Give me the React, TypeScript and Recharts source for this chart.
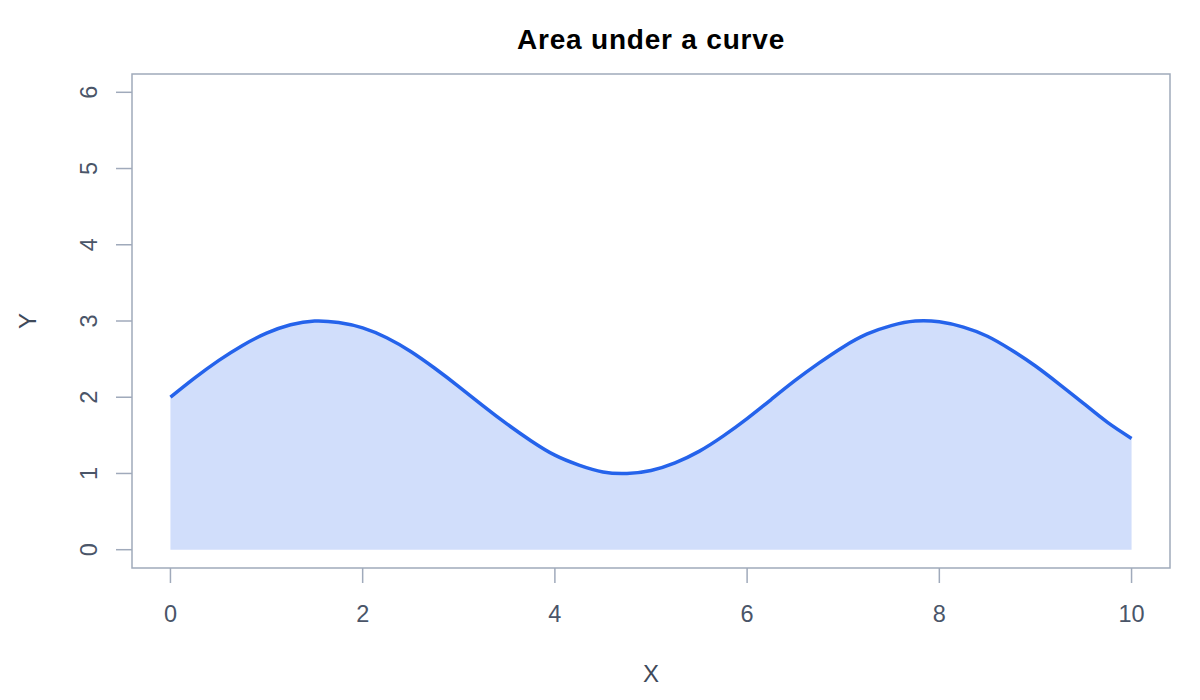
import { Area, ComposedChart, ReferenceArea, XAxis, YAxis } from 'recharts'

const xValues = [
  0, 0.25, 0.5, 0.75, 1, 1.25, 1.5, 1.75, 2, 2.25, 2.5, 2.75, 3, 3.25, 3.5, 3.75, 4, 4.25, 4.5, 4.75,
  5, 5.25, 5.5, 5.75, 6, 6.25, 6.5, 6.75, 7, 7.25, 7.5, 7.75, 8, 8.25, 8.5, 8.75, 9, 9.25, 9.5, 9.75, 10,
]
const yValues = [
  2.0, 2.25, 2.48, 2.68, 2.84, 2.95, 3.0, 2.98, 2.91, 2.78, 2.6, 2.38, 2.14, 1.89, 1.65, 1.43, 1.24, 1.11,
  1.02, 1.0, 1.04, 1.14, 1.29, 1.49, 1.72, 1.97, 2.22, 2.45, 2.66, 2.83, 2.94, 3.0, 2.99, 2.92, 2.8, 2.62,
  2.41, 2.17, 1.92, 1.67, 1.46,
]
const xTicks = [0, 2, 4, 6, 8, 10]
const yTicks = [0, 1, 2, 3, 4, 5, 6]

const X_DOMAIN: [number, number] = [-0.4, 10.4]
const Y_DOMAIN: [number, number] = [-0.24, 6.24]

const FONT = '"Liberation Sans", Arial, Helvetica, sans-serif'
const TICK_COLOR = '#4a5568'
const FRAME_COLOR = '#a0aabb'

const data = xValues.map((x, i) => ({ x, y: yValues[i] }))

function XTick({ x, payload }: any) {
  return (
    <text x={x} y={622} textAnchor="middle" fontSize={23.5} fontFamily={FONT} fill={TICK_COLOR}>
      {payload.value}
    </text>
  )
}

function YTick({ y, payload }: any) {
  return (
    <text
      transform={`translate(96.5,${y}) rotate(-90)`}
      textAnchor="middle"
      fontSize={23.5}
      fontFamily={FONT}
      fill={TICK_COLOR}
    >
      {payload.value}
    </text>
  )
}

export default function App() {
  return (
    <div style={{ position: 'relative', width: 1200, height: 700, margin: -8, background: '#fff' }}>
      <ComposedChart
        width={1200}
        height={700}
        data={data}
        margin={{ top: 74, right: 30, bottom: 72, left: 72 }}
      >
        <XAxis
          type="number"
          dataKey="x"
          domain={X_DOMAIN}
          ticks={xTicks}
          allowDataOverflow
          axisLine={false}
          tickSize={15}
          tickLine={{ stroke: FRAME_COLOR, strokeWidth: 1.5 }}
          tick={<XTick />}
          height={60}
        />
        <YAxis
          type="number"
          domain={Y_DOMAIN}
          ticks={yTicks}
          allowDataOverflow
          axisLine={false}
          tickSize={16}
          tickLine={{ stroke: FRAME_COLOR, strokeWidth: 1.5 }}
          tick={<YTick />}
          width={60}
        />
        <ReferenceArea
          x1={X_DOMAIN[0]}
          x2={X_DOMAIN[1]}
          y1={Y_DOMAIN[0]}
          y2={Y_DOMAIN[1]}
          fill="none"
          stroke={FRAME_COLOR}
          strokeWidth={1.5}
          ifOverflow="visible"
        />
        <Area
          type="natural"
          dataKey="y"
          baseValue={0}
          stroke="#2563eb"
          strokeWidth={3.5}
          fill="#2563eb"
          fillOpacity={0.21}
          dot={false}
          activeDot={false}
          isAnimationActive={false}
        />
      </ComposedChart>
      <svg
        width={1200}
        height={700}
        style={{ position: 'absolute', left: 0, top: 0, pointerEvents: 'none' }}
      >
        <text
          x={651}
          y={49}
          textAnchor="middle"
          fontSize={28}
          fontWeight="bold"
          letterSpacing={0.8}
          fontFamily={FONT}
          fill="#000"
        >
          Area under a curve
        </text>
        <text x={651} y={682} textAnchor="middle" fontSize={24} fontFamily={FONT} fill="#3f4a5a">
          X
        </text>
        <text
          transform="translate(36,321) rotate(-90)"
          textAnchor="middle"
          fontSize={24}
          fontFamily={FONT}
          fill="#3f4a5a"
        >
          Y
        </text>
      </svg>
    </div>
  )
}
